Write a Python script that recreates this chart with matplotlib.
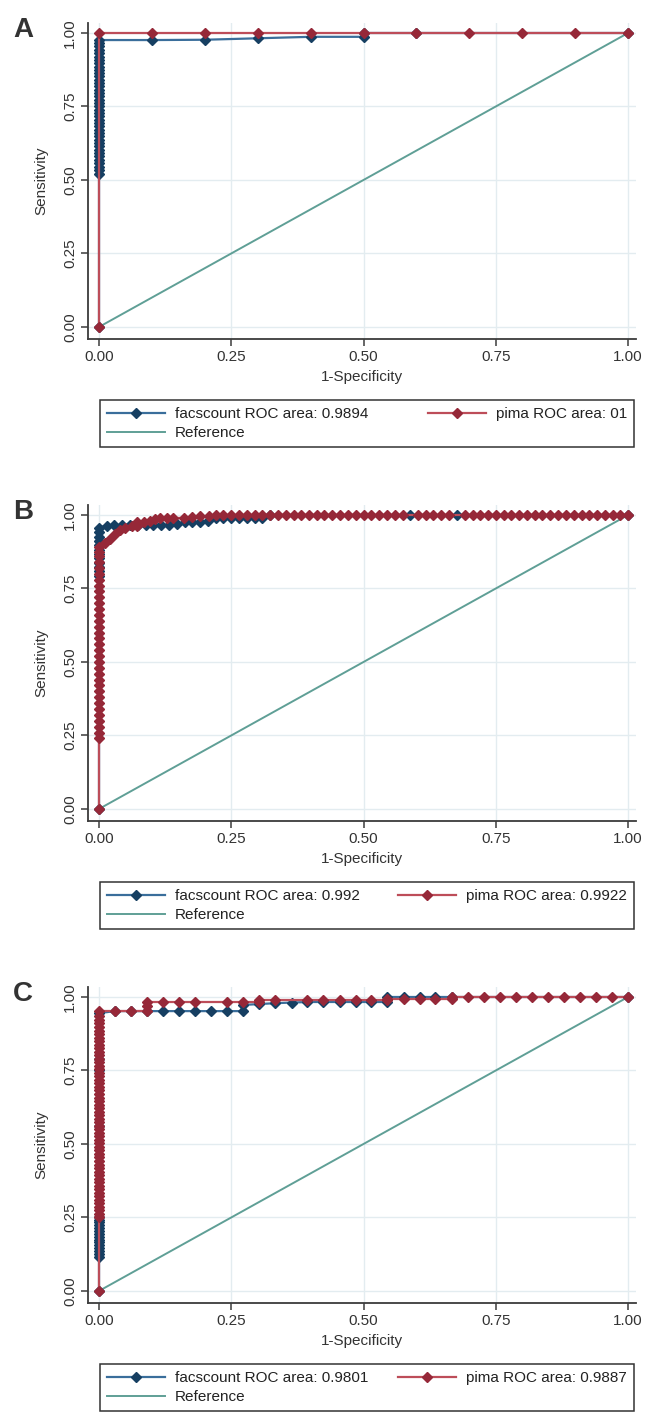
import matplotlib
matplotlib.use("Agg")
import matplotlib.pyplot as plt
from matplotlib.lines import Line2D

plt.rcParams['font.family'] = ['Liberation Sans', 'DejaVu Sans']

# ROC points: sensitivities at 1-specificity = 0, then (1-spec, sens) pairs
# Panel A
a_fac_tpr0 = [0.000, 0.522, 0.534, 0.545, 0.557, 0.568, 0.580, 0.591, 0.602,
              0.614, 0.625, 0.636, 0.648, 0.659, 0.670, 0.682, 0.693, 0.705,
              0.716, 0.727, 0.739, 0.750, 0.761, 0.773, 0.784, 0.795, 0.807,
              0.818, 0.830, 0.841, 0.852, 0.864, 0.875, 0.886, 0.898, 0.909,
              0.920, 0.932, 0.943, 0.955, 0.966, 0.976]
a_fac_fpr = [0.1, 0.2, 0.3, 0.4, 0.5, 0.5, 0.6, 1.0]
a_fac_tpr = [0.976, 0.977, 0.982, 0.987, 0.987, 1.0, 1.0, 1.0]
a_pima_tpr0 = [0.0, 1.0]
a_pima_fpr = [0.1, 0.2, 0.3, 0.4, 0.5, 0.6, 0.7, 0.8, 0.9, 1.0]
a_pima_tpr = [1.0, 1.0, 1.0, 1.0, 1.0, 1.0, 1.0, 1.0, 1.0, 1.0]
a_areas = ["0.9894", "01"]

# Panel B
b_fac_tpr0 = [0.000, 0.794, 0.809, 0.824, 0.838, 0.853, 0.868, 0.882, 0.897,
              0.912, 0.926, 0.941, 0.957]
b_fac_fpr = [0.015, 0.029, 0.044, 0.059, 0.074, 0.088, 0.103, 0.118, 0.132,
             0.147, 0.162, 0.176, 0.191, 0.206, 0.221, 0.235, 0.250, 0.265,
             0.279, 0.294, 0.309, 0.324, 0.588, 0.676, 1.000]
b_fac_tpr = [0.964, 0.966, 0.966, 0.966, 0.966, 0.966, 0.966, 0.966, 0.966,
             0.968, 0.975, 0.975, 0.975, 0.980, 0.989, 0.989, 0.989, 0.989,
             0.989, 0.989, 0.989, 1.000, 1.000, 1.000, 1.000]
b_pima_tpr0 = [0.000, 0.240, 0.260, 0.280, 0.300, 0.320, 0.340, 0.360, 0.380,
               0.400, 0.420, 0.440, 0.460, 0.480, 0.500, 0.520, 0.540, 0.560,
               0.580, 0.600, 0.620, 0.640, 0.660, 0.680, 0.700, 0.720, 0.740,
               0.760, 0.780, 0.800, 0.820, 0.840, 0.860, 0.875, 0.890]
b_pima_fpr = [0.011, 0.021, 0.030, 0.040, 0.049, 0.062, 0.071, 0.071, 0.085,
              0.096, 0.106, 0.115, 0.128, 0.140, 0.160, 0.175, 0.190, 0.207,
              0.221, 0.235, 0.250, 0.265, 0.279, 0.294, 0.309, 0.324, 0.338,
              0.353, 0.368, 0.382, 0.397, 0.412, 0.426, 0.441, 0.456, 0.471,
              0.485, 0.500, 0.515, 0.529, 0.544, 0.559, 0.574, 0.603, 0.618,
              0.632, 0.647, 0.662, 0.691, 0.706, 0.721, 0.735, 0.750, 0.765,
              0.779, 0.794, 0.809, 0.824, 0.838, 0.853, 0.868, 0.882, 0.897,
              0.912, 0.926, 0.941, 0.956, 0.971, 0.985, 1.000]
b_pima_tpr = [0.906, 0.918, 0.935, 0.950, 0.955, 0.963, 0.963, 0.977, 0.977,
              0.978, 0.986, 0.990, 0.990, 0.990, 0.990, 0.992, 0.995, 0.997,
              1.0, 1.0, 1.0, 1.0, 1.0, 1.0, 1.0, 1.0, 1.0,
              1.0, 1.0, 1.0, 1.0, 1.0, 1.0, 1.0, 1.0, 1.0,
              1.0, 1.0, 1.0, 1.0, 1.0, 1.0, 1.0, 1.0, 1.0,
              1.0, 1.0, 1.0, 1.0, 1.0, 1.0, 1.0, 1.0, 1.0,
              1.0, 1.0, 1.0, 1.0, 1.0, 1.0, 1.0, 1.0, 1.0,
              1.0, 1.0, 1.0, 1.0, 1.0, 1.0, 1.0]
b_areas = ["0.992", "0.9922"]

# Panel C
c_fac_tpr0 = [0.000, 0.117, 0.127, 0.136, 0.146, 0.155, 0.165, 0.175, 0.184,
              0.194, 0.204, 0.214, 0.223, 0.233, 0.243, 0.252, 0.560, 0.750,
              0.790, 0.945]
c_fac_fpr = [0.030, 0.061, 0.091, 0.121, 0.152, 0.182, 0.212, 0.242, 0.273,
             0.273, 0.303, 0.333, 0.364, 0.394, 0.424, 0.455, 0.485, 0.515,
             0.545, 0.545, 0.576, 0.606, 0.636, 0.667, 1.000]
c_fac_tpr = [0.952, 0.952, 0.952, 0.952, 0.952, 0.952, 0.952, 0.952, 0.952,
             0.973, 0.976, 0.979, 0.981, 0.983, 0.983, 0.983, 0.983, 0.983,
             0.983, 1.000, 1.000, 1.000, 1.000, 1.000, 1.000]
c_pima_tpr0 = [0.000, 0.250, 0.262, 0.274, 0.286, 0.298, 0.310, 0.322, 0.334,
               0.346, 0.358, 0.370, 0.382, 0.394, 0.406, 0.418, 0.430, 0.442,
               0.454, 0.466, 0.478, 0.490, 0.502, 0.514, 0.526, 0.538, 0.550,
               0.562, 0.574, 0.586, 0.598, 0.610, 0.622, 0.634, 0.646, 0.658,
               0.670, 0.682, 0.694, 0.706, 0.718, 0.730, 0.742, 0.754, 0.766,
               0.778, 0.790, 0.802, 0.814, 0.826, 0.838, 0.850, 0.862, 0.874,
               0.886, 0.898, 0.910, 0.922, 0.934, 0.952]
c_pima_fpr = [0.030, 0.061, 0.091, 0.091, 0.091, 0.121, 0.152, 0.182, 0.242,
              0.273, 0.303, 0.303, 0.333, 0.394, 0.424, 0.455, 0.485, 0.515,
              0.545, 0.545, 0.576, 0.606, 0.636, 0.667, 0.667, 0.697, 0.727,
              0.758, 0.788, 0.818, 0.848, 0.879, 0.909, 0.939, 0.970, 1.000]
c_pima_tpr = [0.952, 0.952, 0.952, 0.968, 0.984, 0.984, 0.984, 0.984, 0.984,
              0.984, 0.984, 0.989, 0.989, 0.989, 0.989, 0.989, 0.989, 0.989,
              0.989, 0.994, 0.994, 0.994, 0.994, 0.994, 1.000, 1.000, 1.000,
              1.000, 1.000, 1.000, 1.000, 1.000, 1.000, 1.000, 1.000, 1.000]
c_areas = ["0.9801", "0.9887"]

ticks = [0, 0.25, 0.5, 0.75, 1]
tick_labels = ["0.00", "0.25", "0.50", "0.75", "1.00"]

FAC_LINE, FAC_MARK = "#3a6e9b", "#163f62"
PIMA_LINE, PIMA_MARK = "#bd4d59", "#962838"
REF_COL = "#5f9f96"
AXIS_COL = "#3c3c3c"
GRID_COL = "#e3ecf0"
MS = 5.0


def curve(tpr0, fpr, tpr):
    # stack the points at 1-specificity 0 in front of the rest
    return [0.0] * len(tpr0) + fpr, tpr0 + tpr


panels = [
    ("A", curve(a_fac_tpr0, a_fac_fpr, a_fac_tpr),
     curve(a_pima_tpr0, a_pima_fpr, a_pima_tpr), a_areas),
    ("B", curve(b_fac_tpr0, b_fac_fpr, b_fac_tpr),
     curve(b_pima_tpr0, b_pima_fpr, b_pima_tpr), b_areas),
    ("C", curve(c_fac_tpr0, c_fac_fpr, c_fac_tpr),
     curve(c_pima_tpr0, c_pima_fpr, c_pima_tpr), c_areas),
]

W, H = 646, 1413
fig = plt.figure(figsize=(W / 100, H / 100), dpi=100)

for i, (letter, fac, pima, areas) in enumerate(panels):
    top = 23 + 482 * i
    ax = fig.add_axes([88 / W, 1 - (top + 316) / H, 548 / W, 316 / H])

    ax.plot([0, 1], [0, 1], color=REF_COL, lw=1.4, zorder=2)
    ax.plot(fac[0], fac[1], color=FAC_LINE, lw=1.6, marker="D", ms=MS,
            mfc=FAC_MARK, mec=FAC_MARK, zorder=3)
    ax.plot(pima[0], pima[1], color=PIMA_LINE, lw=1.6, marker="D", ms=MS,
            mfc=PIMA_MARK, mec=PIMA_MARK, zorder=4)

    ax.set_xlim(-0.0208, 1.015)
    ax.set_ylim(-0.041, 1.034)
    ax.set_xticks(ticks)
    ax.set_xticklabels(tick_labels)
    ax.set_yticks(ticks)
    ax.set_yticklabels(tick_labels)
    ax.grid(True, color=GRID_COL, lw=1)
    ax.set_axisbelow(True)
    for side in ["top", "right"]:
        ax.spines[side].set_visible(False)
    for side in ["left", "bottom"]:
        ax.spines[side].set_color(AXIS_COL)
        ax.spines[side].set_linewidth(1.3)
    ax.tick_params(length=5, width=1.1, color=AXIS_COL, labelcolor="#333333",
                   labelsize=11, pad=3)
    ax.tick_params(axis="y", labelrotation=90)
    for lab in ax.get_yticklabels():
        lab.set_va("center")
    ax.set_xlabel("1-Specificity", fontsize=11, color="#333333", labelpad=4)
    ax.set_ylabel("Sensitivity", fontsize=11, color="#333333")
    ax.yaxis.set_label_coords(-0.072, 0.5)

    fig.text(23 / W, 1 - (30 + 482 * i) / H, letter, fontsize=20,
             fontweight="bold", color="#333333", ha="center", va="center")

    handles = [
        Line2D([], [], color=FAC_LINE, lw=1.6, marker="D", ms=MS,
               mfc=FAC_MARK, mec=FAC_MARK),
        Line2D([], [], color=REF_COL, lw=1.4),
        Line2D([], [], color=PIMA_LINE, lw=1.6, marker="D", ms=MS,
               mfc=PIMA_MARK, mec=PIMA_MARK),
    ]
    labels = ["facscount ROC area: " + areas[0], "Reference",
              "pima ROC area: " + areas[1]]
    leg_top = 400 + 482 * i
    leg = ax.legend(handles, labels, ncol=2, mode="expand", loc="upper left",
                    bbox_to_anchor=(100 / W, 1 - (leg_top + 51) / H,
                                    534 / W, 51 / H),
                    bbox_transform=fig.transFigure, borderaxespad=0,
                    fontsize=11, handlelength=3.8, handletextpad=0.65,
                    borderpad=0.45, labelspacing=0.35, numpoints=1,
                    fancybox=False, framealpha=1, edgecolor="#333333")
    leg.get_frame().set_linewidth(1.1)
    for t in leg.get_texts():
        t.set_color("#222222")

fig.savefig("out.png", dpi=100)
